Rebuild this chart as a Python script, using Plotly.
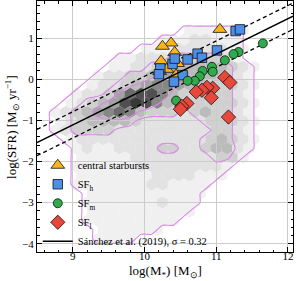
import plotly.graph_objects as go

# ---------------- data ----------------
# hexbin density map (levels 0-9), rows from top (high SFR) to bottom
HEX_X0, HEX_DX = 8.6, 0.15
HEX_Y_TOP, HEX_DY = 1.84, 0.22
density_rows = [
    "000000000000000000000000",
    "000000000000000000000000",
    "000000000000000000000000",
    "000000000000011111100000",
    "000000000001112211100000",
    "000000000111222221100000",
    "000000011222333332100000",
    "000000112233444443210000",
    "000001223345554443210000",
    "000012234566544333210000",
    "000122357886433333210000",
    "001234589864333333210000",
    "012345676433323433210000",
    "012344443222222333210000",
    "012333322222222233210000",
    "001222222222222343210000",
    "000121122223322344210000",
    "000111112222222233100000",
    "000111111222222221000000",
    "000111111122221110000000",
    "000111111122111100000000",
    "000011111111111000000000",
    "000011111112111000000000",
    "000011111111110000000000",
    "000011111111100000000000",
    "000001111110000000000000",
    "000001111000000000000000",
    "000000000000000000000000",
]

starburst_x = [10.37, 10.25, 10.42, 10.23, 10.46, 10.21, 10.44, 10.31, 11.05]
starburst_y = [0.88, 0.80, 0.65, 0.44, 0.38, 0.19, 0.10, 0.24, 1.21]

sfh_x = [11.27, 11.33, 11.01, 10.74, 10.80, 10.60, 10.39, 10.22, 10.20, 10.53, 10.41, 10.42]
sfh_y = [1.17, 1.21, 0.70, 0.62, 0.52, 0.48, 0.37, 0.26, 0.12, 0.10, -0.06, 0.50]

sfm_x = [11.65, 11.31, 11.24, 11.12, 10.94, 10.95, 10.81, 10.77, 10.70, 10.60, 10.44]
sfm_y = [0.87, 0.66, 0.61, 0.46, 0.30, 0.18, 0.20, 0.07, -0.04, -0.04, -0.52]

sfl_x = [11.12, 11.19, 10.95, 10.87, 10.80, 10.72, 10.93, 10.59, 10.52, 10.50, 11.17]
sfl_y = [0.04, -0.08, -0.22, -0.20, -0.27, -0.31, -0.45, -0.59, -0.66, -0.73, -0.92]

SANCHEZ_SLOPE, SANCHEZ_INTERCEPT, SIGMA = 0.86, -8.85, 0.32
X_RANGE = [8.5, 12.07]
Y_RANGE = [-4.2, 1.9]
x_ticks = [9, 10, 11, 12]
y_ticks = [-4, -3, -2, -1, 0, 1]

# ---------------- figure ----------------
FONT = "Liberation Serif, Times New Roman, serif"
grays = {1: "#f0f0f0", 2: "#e2e2e2", 3: "#d0d0d0", 4: "#bbbbbb", 5: "#a2a2a2",
         6: "#878787", 7: "#6b6b6b", 8: "#505050", 9: "#383838"}

ncol = 24
levels = [[int(c) for c in r.ljust(ncol, "0")[:ncol]] for r in density_rows]
row_y = [HEX_Y_TOP - HEX_DY * k for k in range(len(levels))]
col_x = [HEX_X0 + HEX_DX * i for i in range(ncol)]

fig = go.Figure()

# hexagon cells as shapes drawn below the grid (like matplotlib hexbin)
hw = HEX_DX / 2 * 1.02
hh = HEX_DY * 2 / 3 * 1.02
shapes = []
for k, row in enumerate(levels):
    off = HEX_DX / 2 if k % 2 else 0.0
    for i, v in enumerate(row):
        if v > 0:
            cx, cy = col_x[i] + off, row_y[k]
            pts = [(cx, cy + hh), (cx + hw, cy + hh / 2), (cx + hw, cy - hh / 2),
                   (cx, cy - hh), (cx - hw, cy - hh / 2), (cx - hw, cy + hh / 2)]
            path = "M" + " L".join(f"{px:.4f},{py:.4f}" for px, py in pts) + " Z"
            shapes.append(dict(type="path", path=path, xref="x", yref="y", layer="below",
                               fillcolor=grays[v], line=dict(width=0)))

CONT = "#d98ae6"
fig.add_trace(go.Contour(x=col_x, y=row_y, z=levels, showscale=False, hoverinfo="skip",
                         contours=dict(start=0.5, end=4.5, size=2, coloring="lines"),
                         colorscale=[[0, CONT], [1, CONT]],
                         line=dict(width=1.1, smoothing=0.6), showlegend=False))

lx = X_RANGE
ly = [SANCHEZ_SLOPE * v + SANCHEZ_INTERCEPT for v in lx]
for s in (SIGMA, -SIGMA):
    fig.add_trace(go.Scatter(x=lx, y=[v + s for v in ly], mode="lines", showlegend=False,
                             line=dict(color="black", width=1.3, dash="4px,3px"), hoverinfo="skip"))

edge = dict(color="#111111", width=0.8)
fig.add_trace(go.Scatter(x=starburst_x, y=starburst_y, mode="markers", name="central starbursts",
                         marker=dict(symbol="triangle-up", size=12, color="#fdb515", line=edge)))
fig.add_trace(go.Scatter(x=sfh_x, y=sfh_y, mode="markers", name="SF<sub>h</sub>",
                         marker=dict(symbol="square", size=9.5, color="#4d8ee8", line=edge)))
fig.add_trace(go.Scatter(x=sfm_x, y=sfm_y, mode="markers", name="SF<sub>m</sub>",
                         marker=dict(symbol="circle", size=9, color="#2eab4b", line=edge)))
fig.add_trace(go.Scatter(x=sfl_x, y=sfl_y, mode="markers", name="SF<sub>l</sub>",
                         marker=dict(symbol="diamond", size=11, color="#e8483b", line=edge)))
fig.add_trace(go.Scatter(x=lx, y=ly, mode="lines",
                         name=f"Sánchez et al. (2019), σ = {SIGMA}",
                         line=dict(color="black", width=1.4)))

axis_common = dict(showline=True, linecolor="black", linewidth=1, mirror="allticks",
                   ticks="inside", ticklen=5, tickcolor="black", tickwidth=1,
                   showgrid=True, gridcolor="#cccccc", gridwidth=1, zeroline=False,
                   automargin=False,
                   tickfont=dict(family=FONT, size=11, color="black"))
fig.update_xaxes(range=X_RANGE, tickvals=x_ticks, ticklabelstandoff=-6,
                 minor=dict(dtick=0.2, ticks="inside", ticklen=2.5, tickcolor="black", showgrid=False),
                 **axis_common)
fig.update_yaxes(range=Y_RANGE, tickvals=y_ticks,
                 minor=dict(dtick=0.2, ticks="inside", ticklen=2.5, tickcolor="black", showgrid=False),
                 **axis_common)

title_font = dict(family=FONT, size=13, color="black")
fig.add_annotation(text="log(M<sub>*</sub>) [M<sub>⊙</sub>]", xref="paper", yref="paper",
                   x=0.5, y=-0.076, xanchor="center", yanchor="middle",
                   showarrow=False, font=title_font)
fig.add_annotation(text="log(SFR) [M<sub>⊙</sub> yr<sup>−1</sup>]", xref="paper", yref="paper",
                   x=-0.1, y=0.5, xanchor="center", yanchor="middle", textangle=-90,
                   showarrow=False, font=title_font)

fig.update_layout(width=296, height=281, margin=dict(l=37, r=3, t=1, b=29),
                  paper_bgcolor="white", plot_bgcolor="white", shapes=shapes,
                  legend=dict(x=0.003, y=-0.015, xanchor="left", yanchor="bottom",
                              bgcolor="rgba(0,0,0,0)", font=dict(family=FONT, size=10.5, color="black"),
                              tracegroupgap=0, itemwidth=30),
                  font=dict(family=FONT, color="black"))

fig.write_html("out.html", config={"displayModeBar": False},
               post_script="document.body.style.margin='0';document.body.style.overflow='hidden';")
